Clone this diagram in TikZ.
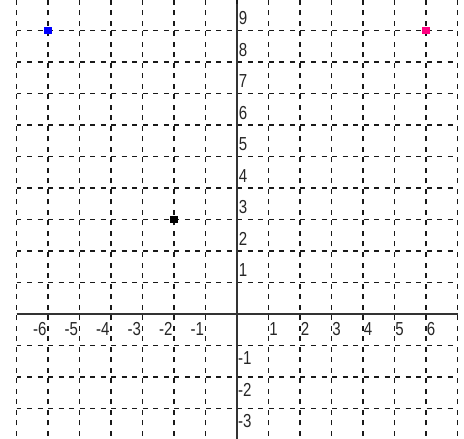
\documentclass[tikz,border=0pt]{standalone}
\usepackage{fontspec}
\setmainfont{Liberation Sans}
\newfontfamily\lblfont[FakeStretch=0.8]{Liberation Sans}
\begin{document}
\begin{tikzpicture}[x=1cm,y=1cm,
  gridline/.style={draw=black!90, line width=1pt, dash pattern=on 4.5pt off 5pt},
  axisline/.style={draw=black!80, line width=1.8pt},
  lbl/.style={inner sep=0pt, font=\lblfont\fontsize{17pt}{18pt}\selectfont, text=black!85},
  pt/.style={rectangle, inner sep=0pt, minimum size=0.25cm, draw=none}]
\useasboundingbox[fill=white] (-7.524,-3.968) rectangle (7.206,9.968);
\begin{scope}
\clip (-7.524,-3.968) rectangle (7.206,9.968);
% grid
\foreach \x in {-7,...,7} {\draw[gridline] (\x,-4.2) -- (\x,10.2);}
\foreach \y in {-3,...,9} {\draw[gridline] (-7,\y) -- (7,\y);}
% axes
\draw[axisline] (-7,0) -- (7,0);
\draw[axisline] (0,9.85) -- (0,-4.2);
\end{scope}
% x labels
\foreach \x in {1,...,6} {\node[lbl, anchor=north west] (xl\x) at (\x+0.02,-0.25) {\x};}
\foreach \x in {1,...,6} {\node[lbl, anchor=north east] (xm\x) at (-\x-0.04,-0.25) {-\x};}
% y labels
\foreach \y in {1,...,9} {\node[lbl, anchor=south west] (yl\y) at (0.05,\y+0.17) {\y};}
\foreach \y in {1,...,3} {\node[lbl, anchor=north west] (ym\y) at (0.03,-\y-0.19) {-\y};}
% points
\node[pt, fill=black] (pblack) at (-2,3) {};
\node[pt, fill={rgb,255:red,0;green,0;blue,255}] (pblue) at (-6,9) {};
\node[pt, fill={rgb,255:red,255;green,0;blue,128}] (ppink) at (6,9) {};
\end{tikzpicture}
\end{document}
